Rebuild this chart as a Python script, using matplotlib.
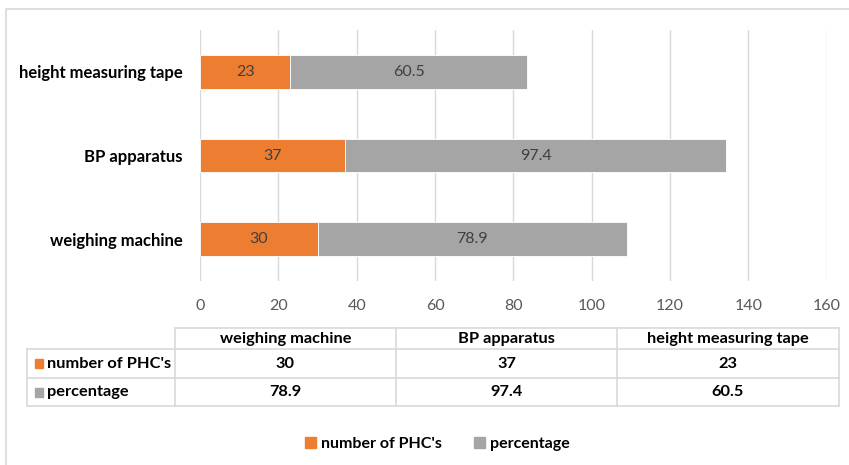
import matplotlib.pyplot as plt
from matplotlib.patches import Rectangle
from matplotlib.lines import Line2D
import numpy as np

plt.rcParams['font.family'] = ['Lato', 'DejaVu Sans']

categories = ['weighing machine', 'BP apparatus', 'height measuring tape']
series_names = ["number of PHC's", 'percentage']
num_phc = [30, 37, 23]
percentage = [78.9, 97.4, 60.5]
xticks = [0, 20, 40, 60, 80, 100, 120, 140, 160]

ORANGE = '#ED7D31'
GREY = '#A5A5A5'
W, H = 849, 465

fig = plt.figure(figsize=(W / 100, H / 100), dpi=100)

# light frame around the whole chart area
fig.patches.append(Rectangle((6 / W, -0.1), 1.1, 1 - 9 / H + 0.1, transform=fig.transFigure,
                             fill=False, edgecolor='#D9D9D9', linewidth=1.2))

ax = fig.add_axes([200 / W, 1 - 281 / H, 626.7 / W, 251 / H])
y = np.arange(len(categories))
ax.barh(y, num_phc, height=0.4, color=ORANGE, edgecolor='white', linewidth=0.6)
ax.barh(y, percentage, left=num_phc, height=0.4, color=GREY, edgecolor='white', linewidth=0.6)
for i in range(len(categories)):
    ax.text(num_phc[i] / 2, y[i], str(num_phc[i]), ha='center', va='center',
            fontsize=11.5, color='#404040')
    ax.text(num_phc[i] + percentage[i] / 2, y[i], str(percentage[i]), ha='center', va='center',
            fontsize=11.5, color='#404040')

ax.set_xlim(0, 160)
ax.set_ylim(-0.5, 2.5)
ax.set_xticks(xticks)
ax.set_xticklabels([str(t) for t in xticks])
ax.set_yticks(y)
ax.set_yticklabels(categories, fontweight='bold', fontsize=12, color='black')
ax.tick_params(axis='x', length=0, pad=13, labelsize=11.5, labelcolor='#595959')
ax.tick_params(axis='y', length=0, pad=12.5)
ax.grid(axis='x', color='#D9D9D9', linewidth=1)
ax.set_axisbelow(True)
for s in ax.spines.values():
    s.set_visible(False)

# data table under the chart
tax = fig.add_axes([0, 0, 1, 1])
tax.set_xlim(0, W)
tax.set_ylim(H, 0)
tax.axis('off')
col_x = [27, 175, 396, 617, 839]
row_y = [328, 349, 378, 406]
lc = '#D9D9D9'
tax.add_line(Line2D([col_x[1], col_x[-1]], [row_y[0], row_y[0]], color=lc, lw=1.2))
for yy in row_y[1:]:
    tax.add_line(Line2D([col_x[0], col_x[-1]], [yy, yy], color=lc, lw=1.2))
tax.add_line(Line2D([col_x[0], col_x[0]], [row_y[1], row_y[-1]], color=lc, lw=1.2))
for xx in col_x[1:]:
    tax.add_line(Line2D([xx, xx], [row_y[0], row_y[-1]], color=lc, lw=1.2))

fs = 11.8
for j, cat in enumerate(categories):
    cx = (col_x[j + 1] + col_x[j + 2]) / 2
    tax.text(cx, (row_y[0] + row_y[1]) / 2, cat, ha='center', va='center',
             fontsize=fs, fontweight='bold')
rows = [num_phc, percentage]
colors = [ORANGE, GREY]
for r, (name, vals, c) in enumerate(zip(series_names, rows, colors)):
    cy = (row_y[r + 1] + row_y[r + 2]) / 2
    tax.add_patch(Rectangle((35, cy - 4.5), 8, 9, color=c))
    tax.text(47, cy, name, ha='left', va='center', fontsize=fs, fontweight='bold')
    for j, v in enumerate(vals):
        cx = (col_x[j + 1] + col_x[j + 2]) / 2
        tax.text(cx, cy, str(v), ha='center', va='center', fontsize=fs, fontweight='bold')

# legend
handles = [Rectangle((0, 0), 1, 1, color=c) for c in colors]
leg = fig.legend(handles, series_names, loc='center', bbox_to_anchor=(437 / W, 1 - 444 / H),
                 ncol=2, frameon=False, handlelength=0.7, handleheight=0.7,
                 handletextpad=0.3, columnspacing=2.0,
                 prop={'weight': 'bold', 'size': 11.5})

fig.savefig('out.png', dpi=100)
